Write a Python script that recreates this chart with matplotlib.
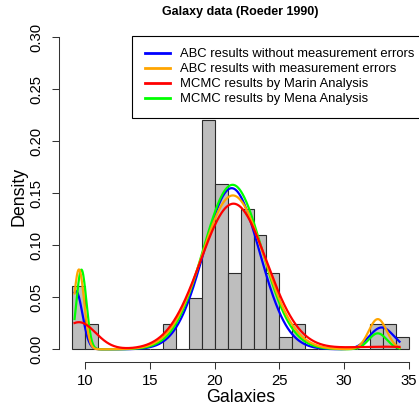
import numpy as np
import matplotlib
matplotlib.use("Agg")
import matplotlib.pyplot as plt

# Histogram of galaxy velocities (density per unit bin)
bin_edges = list(range(9, 36))
bin_density = [0.061, 0.024, 0, 0, 0, 0, 0, 0.024, 0, 0.049, 0.220, 0.159,
               0.073, 0.135, 0.110, 0.073, 0.012, 0.024, 0, 0, 0, 0, 0,
               0.024, 0.024, 0.012]

# Fitted three-component normal mixtures (weights, means, sds)
fits = {
    "ABC results without measurement errors": {
        "w": [0.070, 0.835, 0.050], "mu": [9.28, 21.31, 32.9], "sd": [0.50, 2.15, 0.95]},
    "ABC results with measurement errors": {
        "w": [0.077, 0.890, 0.051], "mu": [9.51, 21.40, 32.6], "sd": [0.40, 2.40, 0.70]},
    "MCMC results by Marin Analysis": {
        "w": [0.085, 0.895, 0.019], "mu": [9.50, 21.45, 33.0], "sd": [1.30, 2.55, 3.00]},
    "MCMC results by Mena Analysis": {
        "w": [0.073, 0.900, 0.027], "mu": [9.70, 21.38, 32.6], "sd": [0.38, 2.27, 0.70]},
}
colors = {
    "ABC results without measurement errors": "#0000FF",
    "ABC results with measurement errors": "#FFA500",
    "MCMC results by Marin Analysis": "#FF0000",
    "MCMC results by Mena Analysis": "#00FF00",
}
data_range = (9.172, 34.279)


def mixture(x, w, mu, sd):
    total = np.zeros_like(x)
    for wi, mi, si in zip(w, mu, sd):
        total += wi * np.exp(-0.5 * ((x - mi) / si) ** 2) / (si * np.sqrt(2 * np.pi))
    return total


plt.rcParams["font.family"] = ["Liberation Sans", "DejaVu Sans"]
W, H = 419, 405
fig = plt.figure(figsize=(W / 100, H / 100), dpi=100)
ax = fig.add_axes([58.9 / W, 43.2 / H, 363.4 / W, 337.0 / H])

# Bars
lefts = bin_edges[:-1]
ax.bar(lefts, bin_density, width=1, align="edge", color="#BEBEBE",
       edgecolor="#2b2b2b", linewidth=0.8, zorder=1)

# Mixture density curves
xs = np.linspace(data_range[0], data_range[1], 600)
draw_order = ["ABC results without measurement errors", "MCMC results by Mena Analysis",
              "ABC results with measurement errors", "MCMC results by Marin Analysis"]
handles = {}
for name in draw_order:
    p = fits[name]
    line, = ax.plot(xs, mixture(xs, p["w"], p["mu"], p["sd"]), color=colors[name],
                    linewidth=1.6, zorder=3, label=name)
    handles[name] = line

ax.set_xlim(7.96, 36.04)
ax.set_ylim(-0.012, 0.312)
for s in ["top", "right"]:
    ax.spines[s].set_visible(False)
ax.spines["left"].set_bounds(0, 0.30)
ax.spines["bottom"].set_bounds(10, 35)
for s in ["left", "bottom"]:
    ax.spines[s].set_linewidth(0.75)
    ax.spines[s].set_color("#333333")

ax.set_xticks([10, 15, 20, 25, 30, 35])
ax.set_yticks([0.00, 0.05, 0.10, 0.15, 0.20, 0.25, 0.30])
ax.set_yticklabels(["0.00", "0.05", "0.10", "0.15", "0.20", "0.25", "0.30"])
ax.tick_params(direction="out", length=5, width=0.75, color="#333333", labelsize=10.7)
ax.tick_params(axis="x", pad=3.5)
ax.tick_params(axis="y", pad=6)
plt.setp(ax.get_yticklabels(), rotation=90, va="center")

fig.text(240.6 / W, 1 - 401.5 / H, "Galaxies", ha="center", va="baseline", fontsize=12.8)
fig.text(19 / W, 1 - 196 / H, "Density", ha="center", va="center", rotation=90, fontsize=12.8)
fig.text(240.6 / W, 1 - 12.5 / H, "Galaxy data (Roeder 1990)", ha="center", va="center",
         fontsize=9, fontweight="bold")

legend_order = ["ABC results without measurement errors", "ABC results with measurement errors",
                "MCMC results by Marin Analysis", "MCMC results by Mena Analysis"]
leg = ax.legend([handles[n] for n in legend_order], legend_order,
                loc="upper left", bbox_to_anchor=(132.3 / W, 1 - 35.7 / H),
                bbox_transform=fig.transFigure, borderaxespad=0, fontsize=9.4,
                frameon=True, fancybox=False, framealpha=1, edgecolor="black",
                borderpad=0.95, handlelength=1.96, handletextpad=0.72, labelspacing=0.22)
leg.get_frame().set_linewidth(0.8)
for ln in leg.get_lines():
    ln.set_linewidth(2)

fig.savefig("out.png", dpi=100)
